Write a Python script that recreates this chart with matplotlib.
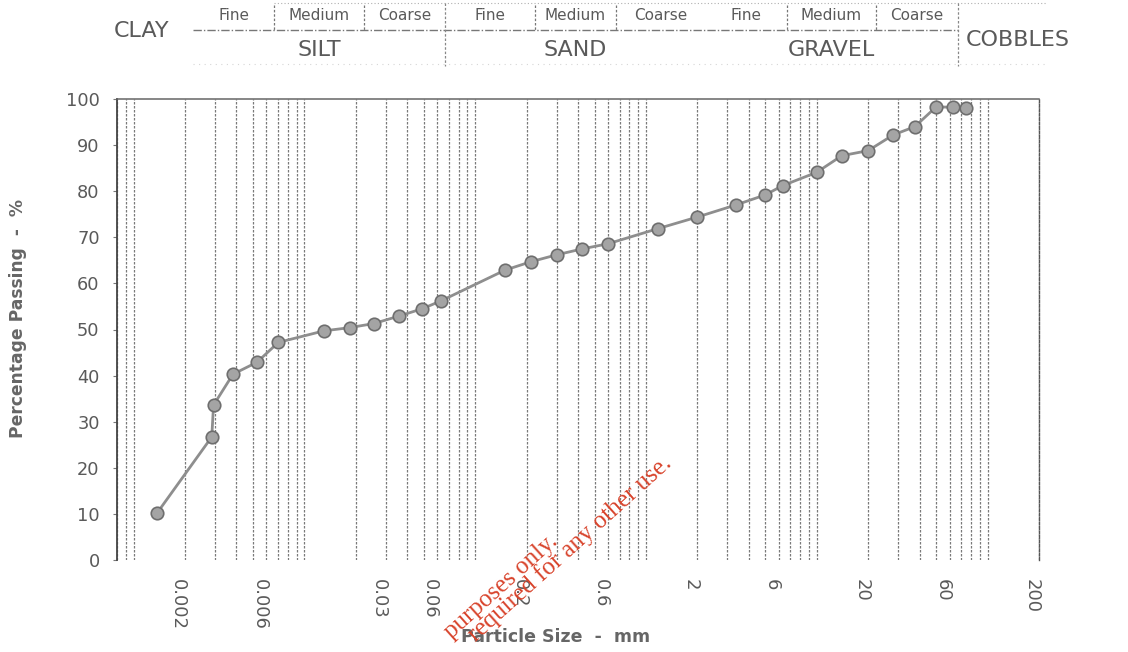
import matplotlib
matplotlib.use("Agg")
import matplotlib.pyplot as plt
import matplotlib.transforms as mtransforms
from matplotlib.ticker import LogLocator, NullFormatter, FixedLocator

# ---------------- data ----------------
particle_size_mm = [0.00138, 0.00287, 0.00294, 0.00382, 0.00528, 0.00704, 0.0130,
                    0.0184, 0.0256, 0.0357, 0.049, 0.063, 0.15, 0.212, 0.3, 0.425,
                    0.6, 1.18, 2.0, 3.35, 5.0, 6.3, 10.0, 14.0, 20.0, 28.0, 37.5,
                    50.0, 63.0, 75.0]
percent_passing = [10.3, 26.7, 33.6, 40.3, 42.9, 47.2, 49.7, 50.4, 51.3, 52.9, 54.5,
                   56.2, 62.9, 64.7, 66.2, 67.5, 68.6, 71.9, 74.4, 77.0, 79.2, 81.2,
                   84.1, 87.7, 88.8, 92.2, 94.0, 98.3, 98.2, 98.1]

x_tick_values = [0.002, 0.006, 0.03, 0.06, 0.2, 0.6, 2, 6, 20, 60, 200]
x_tick_labels = ["0.002", "0.006", "0.03", "0.06", "0.2", "0.6", "2", "6", "20", "60", "200"]
y_tick_values = [0, 10, 20, 30, 40, 50, 60, 70, 80, 90, 100]

# soil classification header
main_classes = ["SILT", "SAND", "GRAVEL"]
main_bounds = [(0.002, 0.06), (0.06, 2), (2, 60)]
sub_labels = ["Fine", "Medium", "Coarse"]
sub_bounds = [[0.002, 0.006, 0.02, 0.06], [0.06, 0.2, 0.6, 2], [2, 6, 20, 60]]
sub_dividers = [0.006, 0.02, 0.2, 0.6, 6, 20]
full_dividers = [0.06, 60]

watermark_lines = ["purposes only.", "required for any other use."]

W, H = 1128, 652
TXT = "#5a5a5a"

fig = plt.figure(figsize=(W / 100, H / 100), dpi=100)
fig.patch.set_facecolor("white")

ax_l, ax_r, ax_t, ax_b = 117, 1039, 99, 560
ax = fig.add_axes([ax_l / W, 1 - ax_b / H, (ax_r - ax_l) / W, (ax_b - ax_t) / H])
ax.set_xscale("log")
ax.set_xlim(0.0008, 200)
ax.set_ylim(0, 100)

# vertical log grid
ax.xaxis.set_minor_locator(LogLocator(base=10, subs=range(1, 10), numticks=30))
ax.xaxis.set_minor_formatter(NullFormatter())
ax.xaxis.set_major_locator(FixedLocator(x_tick_values))
ax.set_xticklabels(x_tick_labels)
ax.grid(True, which="both", axis="x", color="#7a7a7a", linewidth=0.9,
        linestyle=(0, (2.0, 1.2)))
ax.set_axisbelow(True)

ax.plot(particle_size_mm, percent_passing, "-o", color="#8e8e8e", linewidth=2.0,
        markersize=9, markerfacecolor="#a4a4a4", markeredgecolor="#6e6e6e",
        markeredgewidth=1.2, zorder=5)

ax.set_yticks(y_tick_values)
ax.tick_params(axis="y", which="major", length=3, width=0.8, color="#777",
               labelsize=12.8, labelcolor=TXT, pad=9.5)
ax.tick_params(axis="x", which="both", length=0, labelsize=13, labelcolor=TXT,
               pad=14, labelrotation=270)
off = mtransforms.ScaledTranslation(-7 / 100, 0, fig.dpi_scale_trans)
for lab in ax.get_xticklabels():
    lab.set_transform(lab.get_transform() + off)

ax.spines["bottom"].set_visible(False)
ax.spines["left"].set_color("#444")
ax.spines["left"].set_linewidth(1.3)
ax.spines["top"].set_color("#666")
ax.spines["top"].set_linewidth(1.1)
ax.spines["right"].set_color("#555")
ax.spines["right"].set_linewidth(1.0)
ax.spines["right"].set_linestyle((0, (2.0, 1.2)))

fig.text(18 / W, 1 - 319 / H, "Percentage Passing  -  %", rotation=90, ha="center",
         va="center", fontsize=12.3, fontweight="bold", color="#666")
fig.text(556 / W, 1 - 637 / H, "Particle Size  -  mm", ha="center", va="center",
         fontsize=12.5, fontweight="bold", color="#666")

# ---------------- header ----------------
hx = fig.add_axes([(ax_l + 8) / W, 1 - 70 / H, (ax_r - ax_l) / W, 70 / H])
hx.set_xscale("log")
hx.set_xlim(0.0008, 200)
hx.set_ylim(70, 0)
hx.axis("off")

hx.plot([0.002, 60], [30, 30], color="#777", linewidth=1.0,
        linestyle=(0, (6, 1.5, 1, 1.5)))
hx.plot([0.006, 200], [3, 3], color="#b0b0b0", linewidth=0.8, linestyle=(0, (1, 2)))
hx.plot([0.002, 200], [64, 64], color="#d6d6d6", linewidth=0.8, linestyle=(0, (1, 4)))
for d in sub_dividers:
    hx.plot([d, d], [5, 30], color="#777", linewidth=0.9, linestyle=(0, (2, 1.5)))
for d in full_dividers:
    hx.plot([d, d], [3, 66], color="#888", linewidth=0.9, linestyle=(0, (2, 1.5)))

for bounds in sub_bounds:
    for i, lab in enumerate(sub_labels):
        xc = (bounds[i] * bounds[i + 1]) ** 0.5
        hx.text(xc, 16, lab, ha="center", va="center", fontsize=11, color=TXT)
for name, (lo, hi) in zip(main_classes, main_bounds):
    hx.text((lo * hi) ** 0.5, 50, name, ha="center", va="center", fontsize=16,
            color=TXT)
hx.annotate("CLAY", xy=(0.002, 31), xytext=(-17, 0), textcoords="offset points",
            ha="right", va="center", fontsize=16, color=TXT)
hx.annotate("COBBLES", xy=(60, 40), xytext=(6, 0), textcoords="offset points",
            ha="left", va="center", fontsize=16, color=TXT)

# ---------------- watermark ----------------
wm = dict(rotation=42, rotation_mode="anchor", ha="right", va="baseline",
          fontsize=18, color="#d8432b", family="Liberation Serif", zorder=20)
fig.text(559 / W, 1 - 543 / H, watermark_lines[0], **wm)
fig.text(673 / W, 1 - 465 / H, watermark_lines[1], **wm)

fig.savefig("out.png", dpi=100)
